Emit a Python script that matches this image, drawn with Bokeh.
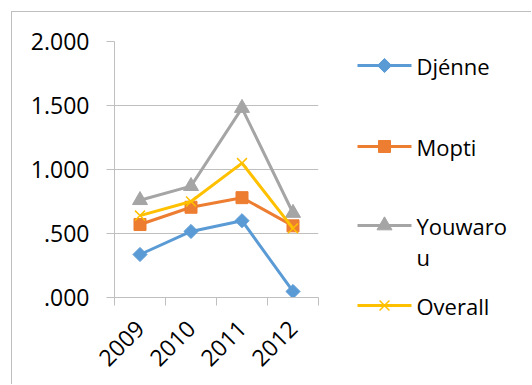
import math

from bokeh.core.properties import value
from bokeh.embed import file_html
from bokeh.layouts import row
from bokeh.models import FixedTicker, Grid, LinearAxis, Range1d
from bokeh.plotting import figure
from bokeh.resources import INLINE

# --- data -----------------------------------------------------------------
years = ["2009", "2010", "2011", "2012"]
djenne = [0.336, 0.516, 0.600, 0.047]
mopti = [0.570, 0.705, 0.780, 0.560]
youwarou = [0.760, 0.870, 1.480, 0.660]
overall = [0.640, 0.750, 1.050, 0.540]
y_ticks = [0.0, 0.5, 1.0, 1.5, 2.0]
y_tick_labels = [".000", ".500", "1.000", "1.500", "2.000"]
series_names = ["Djénne", "Mopti", "Youwarou", "Overall"]

# --- style ------------------------------------------------------------------
FONT = "Open Sans"
GRAY = "#bfbfbf"
TEXT = "#000000"
COLORS = ["#5b9bd5", "#ed7d31", "#a5a5a5", "#ffc000"]
LW = 3
MARKERS = [
    dict(marker="square", angle=math.pi / 4, size=10),
    dict(marker="square", size=12),
    dict(marker="triangle", size=15),
    dict(marker="x", size=14, line_width=1.5),
]

xs = [i + 0.5 for i in range(len(years))]

# --- main chart -------------------------------------------------------------
p = figure(
    width=328, height=373,
    x_range=Range1d(0, len(years)), y_range=Range1d(0, 2),
    output_backend="svg", toolbar_location=None,
    x_axis_type=None, y_axis_type=None,
    min_border_left=102, min_border_top=29, min_border_right=22, min_border_bottom=88,
)
p.frame_align = False
p.margin = (11, 0, 0, 11)
p.styles = {"border-left": f"1px solid {GRAY}", "border-top": f"1px solid {GRAY}"}
p.outline_line_color = None
p.xgrid.visible = False
p.ygrid.visible = False

yax = LinearAxis(
    ticker=FixedTicker(ticks=y_ticks, minor_ticks=[]),
    major_label_overrides={t: s for t, s in zip(y_ticks, y_tick_labels)},
)
yax.axis_line_color = GRAY
yax.major_tick_line_color = GRAY
yax.major_tick_out = 8
yax.major_tick_in = 0
yax.major_label_standoff = 17
yax.major_label_text_font = FONT
yax.major_label_text_font_size = "23px"
yax.major_label_text_color = TEXT
p.add_layout(yax, "left")

# category labels at centres, tick marks at category boundaries
xax = LinearAxis(
    ticker=FixedTicker(ticks=xs, minor_ticks=list(range(len(years) + 1))),
    major_label_overrides={x: y for x, y in zip(xs, years)},
)
xax.axis_line_color = GRAY
xax.major_tick_line_color = None
xax.minor_tick_line_color = GRAY
xax.minor_tick_out = 8
xax.minor_tick_in = 0
xax.major_label_orientation = math.pi / 4
xax.major_label_standoff = 19
xax.major_label_text_font = FONT
xax.major_label_text_font_size = "23px"
xax.major_label_text_color = TEXT
p.add_layout(xax, "below")

p.add_layout(Grid(dimension=1, ticker=FixedTicker(ticks=y_ticks), grid_line_color=GRAY))

for vals, color, mk in zip([djenne, mopti, youwarou, overall], COLORS, MARKERS):
    p.line(xs, vals, line_color=color, line_width=LW)
    p.scatter(xs, vals, fill_color=color, line_color=color, **mk)

# --- legend panel (pixel coordinates, y measured down from the top) ----------
leg_w, leg_h = 192, 373
lg = figure(
    width=leg_w, height=leg_h,
    x_range=Range1d(0, leg_w), y_range=Range1d(leg_h, 0),
    output_backend="svg", toolbar_location=None,
    x_axis_type=None, y_axis_type=None,
    min_border=0,
)
lg.frame_align = False
lg.margin = (11, 0, 0, 0)
lg.styles = {"border-top": f"1px solid {GRAY}"}
lg.outline_line_color = None
lg.xgrid.visible = False
lg.ygrid.visible = False

row_y = [53, 134, 213, 293]
SW_X0, SW_X1, TXT_X = 18, 72, 77
LINE_GAP = 31
for name, color, mk, y in zip(series_names, COLORS, MARKERS, row_y):
    lg.segment(x0=[SW_X0], y0=[y], x1=[SW_X1], y1=[y], line_color=color, line_width=LW)
    lg.scatter([(SW_X0 + SW_X1) / 2], [y], fill_color=color, line_color=color, **mk)
    # long names wrap onto a second line, as in a narrow legend box
    parts = [name[:7], name[7:]] if len(name) > 7 else [name]
    lg.text(
        x=[TXT_X] * len(parts), y=[y + i * LINE_GAP for i in range(len(parts))], text=parts,
        text_font=value(FONT), text_font_size="22px", text_color=TEXT,
        text_baseline="middle", text_align="left",
    )

layout = row(p, lg)
open("out.html", "w").write(file_html(layout, INLINE))
